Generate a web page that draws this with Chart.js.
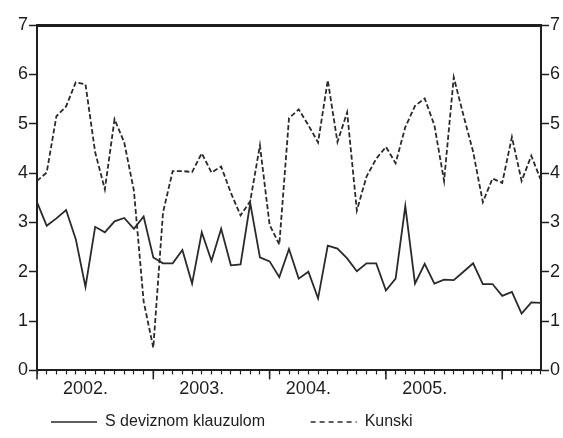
<!DOCTYPE html>
<html>
<head>
<meta charset="utf-8">
<script src="https://cdn.jsdelivr.net/npm/chart.js@4/dist/chart.umd.min.js"></script>
<style>
html, body { margin: 0; padding: 0; background: #fff; overflow: hidden; }
#wrap { width: 563px; height: 438px; overflow: hidden; }
canvas { display: block; }
</style>
</head>
<body>
<div id="wrap"><canvas id="c" width="580" height="438"></canvas></div>
<script>
// mjesecni podaci, sijecanj 2002. - svibanj 2006.
var startYear = 2002;
var yearLabels = ['2002.', '2003.', '2004.', '2005.'];
var yearLabelIdx = [5, 17, 28, 40];

var sDeviznom = [
	3.41, 2.93, 3.08, 3.25, 2.66, 1.69, 2.91, 2.80, 3.02, 3.09, 2.87, 3.12,
	2.29, 2.17, 2.17, 2.44, 1.76, 2.80, 2.22, 2.87, 2.13, 2.15, 3.39, 2.29,
	2.21, 1.89, 2.46, 1.86, 2.00, 1.46, 2.53, 2.47, 2.27, 2.01, 2.17, 2.17,
	1.62, 1.86, 3.33, 1.76, 2.16, 1.76, 1.84, 1.83, 2.00, 2.17, 1.75, 1.75,
	1.51, 1.59, 1.15, 1.38, 1.37
];
var kunski = [
	3.84, 4.01, 5.15, 5.35, 5.84, 5.80, 4.42, 3.67, 5.09, 4.62, 3.64, 1.40,
	0.46, 3.20, 4.04, 4.04, 4.02, 4.40, 4.01, 4.13, 3.60, 3.14, 3.43, 4.56,
	2.95, 2.55, 5.11, 5.29, 4.97, 4.62, 5.88, 4.63, 5.23, 3.24, 3.93, 4.29,
	4.53, 4.20, 4.93, 5.36, 5.51, 4.97, 3.84, 5.94, 5.17, 4.43, 3.41, 3.89,
	3.80, 4.73, 3.84, 4.35, 3.85
];

var months = [];
for (var i = 0; i < sDeviznom.length; i++) {
	months.push((startYear + Math.floor(i / 12)) + '-' + (i % 12 + 1));
}

var ink = '#1e1e1e';
var lineCol = '#2a2a2a';
var dash = [5, 2.5];
Chart.defaults.font.family = "'Liberation Sans', Arial, sans-serif";
Chart.defaults.color = ink;

// duze crtice za sijecanj
var majorTicks = {
	id: 'majorTicks',
	afterDraw: function(chart) {
		var sc = chart.scales.x, ctx = chart.ctx, b = chart.chartArea.bottom;
		ctx.save();
		ctx.strokeStyle = ink;
		ctx.lineWidth = 1.5;
		for (var i = 0; i < sc.ticks.length; i += 12) {
			var px = sc.getPixelForTick(i);
			ctx.beginPath();
			ctx.moveTo(px, b);
			ctx.lineTo(px, b + 9);
			ctx.stroke();
		}
		ctx.restore();
	}
};

// legenda malo ulijevo
var legendPos = {
	id: 'legendPos',
	afterLayout: function(chart) {
		var lg = chart.legend;
		var w = lg.right - lg.left;
		lg.left = 41;
		lg.right = lg.left + w;
	}
};

var tickFont = { size: 18 };
var axisY = function(pos) {
	return {
		position: pos,
		min: 0,
		max: 7,
		ticks: { stepSize: 1, padding: 1, font: tickFont, color: ink },
		grid: { drawOnChartArea: false, tickLength: 8, color: ink, tickWidth: 1.5 },
		border: { color: ink, width: 2 }
	};
};

var ctx = document.getElementById('c').getContext('2d');
var chart = new Chart(ctx, {
	type: 'line',
	data: {
		labels: months,
		datasets: [
			{
				label: 'S deviznom klauzulom',
				data: sDeviznom,
				borderColor: lineCol,
				backgroundColor: lineCol,
				borderWidth: 1.8,
				pointRadius: 0,
				fill: false
			},
			{
				label: 'Kunski',
				data: kunski,
				borderColor: lineCol,
				backgroundColor: lineCol,
				borderWidth: 1.8,
				borderDash: dash,
				pointRadius: 0,
				fill: false
			}
		]
	},
	options: {
		responsive: false,
		animation: false,
		layout: { padding: { left: 17, right: 19, top: 17, bottom: -2 } },
		plugins: {
			tooltip: { enabled: false },
			legend: {
				position: 'bottom',
				align: 'start',
				labels: {
					usePointStyle: true,
					pointStyle: 'line',
					pointStyleWidth: 46,
					padding: 10,
					color: ink,
					font: { size: 16 },
					generateLabels: function(chart) {
						var items = Chart.defaults.plugins.legend.labels.generateLabels(chart);
						items[0].text += '        ';
						items.forEach(function(it) {
							it.lineWidth = 1.6;
							it.strokeStyle = lineCol;
						});
						items[0].lineDash = [];
						items[1].lineDash = [5, 4];
						return items;
					}
				}
			}
		},
		scales: {
			x: {
				offset: false,
				grid: { drawOnChartArea: false, tickLength: 4, color: ink, tickWidth: 1.2 },
				border: { color: ink, width: 2 },
				ticks: {
					autoSkip: false,
					maxRotation: 0,
					padding: 4,
					font: tickFont,
					color: ink,
					callback: function(v, i) {
						var k = yearLabelIdx.indexOf(i);
						return k >= 0 ? yearLabels[k] : '';
					}
				}
			},
			xTop: {
				type: 'category',
				labels: months,
				position: 'top',
				offset: false,
				ticks: { display: false },
				grid: { display: false },
				border: { color: ink, width: 3 }
			},
			y: axisY('left'),
			y2: axisY('right')
		}
	},
	plugins: [majorTicks, legendPos]
});
</script>
</body>
</html>
